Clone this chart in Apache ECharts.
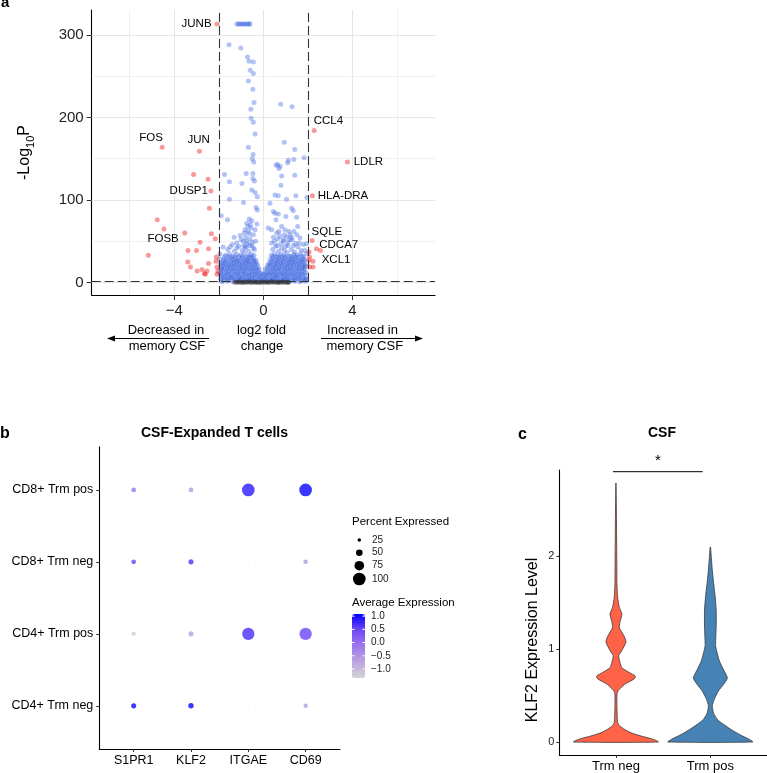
<!DOCTYPE html>
<html><head><meta charset="utf-8">
<script src="https://cdn.jsdelivr.net/npm/echarts@6/dist/echarts.min.js"></script>
<style>html,body{margin:0;padding:0;background:#fff}#chart{width:767px;height:773px}</style>
</head><body><div id="chart"></div>
<script>
// ================= DATA =================
// ---- Panel a : volcano ----
const volcanoXTicks = [-4, 0, 4];
const volcanoXMinor = [-6, -2, 2, 6];
const volcanoYTicks = [0, 100, 200, 300];
const volcanoYMinor = [50, 150, 250];
const fcCutoffs = [-2, 2];
const pCutoffs = [1.3];
// significant in both (red): [log2FC, -log10P, gene]
const volcanoRed = [
  [-2.08,313,'JUNB'],[-4.54,164,'FOS'],[-2.87,159,'JUN'],[-3.13,131,''],[-2.48,125,''],
  [-2.35,111,'DUSP1'],[-2.42,90,''],[-4.76,76,''],[-4.46,65,'FOSB'],[-3.53,60,''],
  [-2.33,59,''],[-2.16,53,''],[-2.84,49,''],[-5.16,33,''],[-3.38,39,''],[-3.0,39,''],
  [-2.46,41,''],[-3.39,25,''],[-3.27,19,''],[-2.97,14,''],[-2.75,16,''],[-2.65,11,''],
  [-2.53,14,''],[-2.46,23,''],[-2.11,31,''],[-2.12,26,''],[-2.08,19,''],[-2.04,14,''],
  [-2.08,10,''],[-2.6,10,''],
  [2.28,184,'CCL4'],[3.77,146,'LDLR'],[2.2,105,'HLA-DRA'],[2.19,51,'SQLE'],[2.38,41,'CDCA7'],
  [2.56,39,''],[2.05,37,''],[2.07,31,''],[2.23,26,'XCL1'],[2.08,19,''],[2.23,19,''],[2.05,27,'']
];
// significant by P only (blue): [log2FC, -log10P]
const volcanoBlue = [
  [-1.19,313],[-1.12,313],[-1.05,313],[-0.98,313],[-0.91,313],[-0.84,313],[-0.77,313],[-0.7,313],[-0.64,313],[-0.6,313],
  [-1.54,288],[-1.01,284],[-0.71,273],[-0.64,268],[-0.45,267],[-0.59,257],[-0.45,253],[-0.67,244],[-0.47,234],
  [-0.42,218],[-0.56,210],[0.78,216],[1.29,213],[-0.55,199],[-0.45,194],[-0.37,180],[0.94,170],[-0.67,164],
  [1.41,161],[-0.46,155],[-0.5,150],[-0.43,146],[1.83,151],[1.12,148],[1.37,149],[0.64,143],[0.75,141],[0.7,138],
  [1.09,145],[0.57,142],[-1.74,131],[-1.52,122],[-0.77,132],[-0.96,120],[-0.47,132],[-0.47,126],[-0.4,123],
  [0.82,129],[0.79,118],[1.41,130],[-0.52,112],[-0.37,109],[-0.27,104],[-1.52,101],[-0.89,97],[0.52,106],
  [0.67,105],[1.04,101],[1.46,105],[1.95,103],[0.3,96],[-0.33,91],[-0.27,88],[0.45,86],[0.52,84],[0.67,83],
  [1.27,90],[1.34,87],[1.01,80],[-1.89,81],[-1.61,76],[-0.63,77],[-0.52,75],[0.57,76],[1.49,79],[0.82,68],
  [-0.74,72],[-0.29,71],[0.22,66],[0.37,64],[0.97,64],[1.54,68],[1.37,62],[-0.82,64],[-0.63,59],[-1.31,55],
  [-1.04,57],[-0.37,64],[0.75,56],[1.04,55],[1.64,54],[1.19,52],[0.89,52],[1.79,46],[1.94,47],[0.37,48],
  [-1.49,43],[-1.81,43],[-1.19,42],[-0.82,43],[-0.45,42],[-1.95,35],[-1.96,29],[-1.93,23],[-1.9,17],[-1.93,11],
  [1.86,39],[1.94,35],[1.86,28],[1.86,19],
  [-1.0,52],[-0.8,55],[-0.68,62],[-0.55,66],[-0.45,58],[-0.75,50],[-0.62,45],[-0.88,45],[-1.4,46],[-0.35,50],
  [-0.58,70],[-0.7,68],[0.45,55],[0.7,62],[0.9,50],[1.15,62],[1.35,45],[1.6,48],[0.62,45],[1.0,44],[1.25,55],[1.5,58],
  [-1.2,48],[-0.9,50],[-0.72,47],[-0.6,53],[-0.5,49],[0.5,50],[0.65,53],[0.8,47],[0.95,58],[1.1,49],[1.3,52],
  [1.45,47],[-0.85,60],[0.6,60],[1.2,58],
  [-1.6,40],[-1.3,38],[-1.1,44],[-0.95,39],[-0.78,42],[-0.65,38],[-0.52,45],[-0.4,40],[0.42,40],[0.55,44],
  [0.68,38],[0.82,42],[0.95,39],[1.1,45],[1.25,40],[1.4,37],[1.55,43],[1.7,39],
  [-1.7,33],[-1.52,35],[-1.35,32],[-1.18,34],[-1.01,33],[-0.85,36],[-0.7,32],[-0.55,34],[-0.42,33],[0.36,33],
  [0.5,35],[0.64,32],[0.78,34],[0.93,33],[1.07,36],[1.21,32],[1.36,34],[1.5,33],[1.66,35],[1.8,32],
  [-1.75,31],[-1.6,31.5],[-1.44,31],[-1.27,31.5],[-1.1,31],[-0.93,31.5],[-0.77,31],[-0.62,31.5],[-0.48,31],
  [0.42,31],[0.57,31.5],[0.71,31],[0.85,31.5],[1.0,31],[1.14,31.5],[1.29,31],[1.43,31.5],[1.58,31],[1.73,31.5],
  [-1.8,28],[-1.65,27],[-1.5,30],[-1.37,28],[-1.23,29],[-1.1,27],[-0.96,30],[-0.83,28],[-0.7,27],[-0.57,30],
  [-0.44,28],[-0.33,27],[0.3,28],[0.44,30],[0.57,27],[0.7,29],[0.84,28],[0.97,30],[1.1,27],[1.24,29],[1.37,28],
  [1.5,30],[1.64,27],[1.77,29],
  [-1.78,26],[-1.58,26.5],[-1.43,26],[-1.3,26.5],[-1.16,26],[-1.03,26.5],[-0.89,26],[-0.76,26.5],[-0.63,26],
  [-0.5,26.5],[-0.38,26],[0.36,26],[0.5,26.5],[0.63,26],[0.77,26.5],[0.9,26],[1.04,26.5],[1.17,26],[1.3,26.5],
  [1.44,26],[1.57,26.5],[1.7,26],[1.84,26.5],
  [-1.85,23],[-1.72,25],[-1.59,22],[-1.46,24],[-1.33,23],[-1.2,25],[-1.07,22],[-0.94,24],[-0.81,23],[-0.68,25],
  [-0.55,22],[-0.42,24],[-0.29,23],[0.25,23],[0.38,25],[0.51,22],[0.64,24],[0.77,23],[0.9,25],[1.03,22],
  [1.16,24],[1.29,23],[1.42,25],[1.55,22],[1.68,24],[1.81,23],
  [-1.82,21],[-1.69,21.5],[-1.56,21],[-1.43,21.5],[-1.3,21],[-1.17,21.5],[-1.04,21],[-0.91,21.5],[-0.78,21],
  [-0.65,21.5],[-0.52,21],[-0.39,21.5],[-0.26,21],[0.2,21],[0.32,21.5],[0.45,21],[0.58,21.5],[0.71,21],
  [0.84,21.5],[0.97,21],[1.1,21.5],[1.23,21],[1.36,21.5],[1.49,21],[1.62,21.5],[1.75,21],[1.88,21.5],
  [-1.89,18],[-1.76,20],[-1.63,17],[-1.5,19],[-1.37,18],[-1.24,20],[-1.11,17],[-0.98,19],[-0.85,18],[-0.72,20],
  [-0.59,17],[-0.46,19],[-0.33,18],[-0.2,17],[0.18,18],[0.31,20],[0.44,17],[0.57,19],[0.7,18],[0.83,20],
  [0.96,17],[1.09,19],[1.22,18],[1.35,20],[1.48,17],[1.61,19],[1.74,18],[1.87,20],
  [-1.86,16],[-1.73,16.5],[-1.6,16],[-1.46,16.5],[-1.33,16],[-1.2,16.5],[-1.07,16],[-0.94,16.5],[-0.81,16],
  [-0.68,16.5],[-0.55,16],[-0.42,16.5],[-0.29,16],[0.08,16.5],[0.3,16],[0.43,16.5],[0.55,16],[0.68,16.5],
  [0.81,16],[0.94,16.5],[1.07,16],[1.2,16.5],[1.33,16],[1.46,16.5],[1.59,16],[1.72,16.5],[1.85,16],
  [-1.93,13],[-1.8,15],[-1.67,12],[-1.53,14],[-1.4,13],[-1.27,15],[-1.14,12],[-1.01,14],[-0.88,13],[-0.75,15],
  [-0.62,12],[-0.49,14],[-0.36,13],[-0.23,15],[-0.12,12],[0.12,13],[0.24,15],[0.36,12],[0.49,14],[0.62,13],
  [0.75,15],[0.88,12],[1.01,14],[1.14,13],[1.27,15],[1.4,12],[1.53,14],[1.66,13],[1.79,15],[1.92,12],
  [-1.84,10.5],[-1.71,11],[-1.57,10.5],[-1.44,11],[-1.31,10.5],[-1.18,11],[-1.05,10.5],[-0.92,11],[-0.79,10.5],
  [-0.66,11],[-0.53,10.5],[-0.4,11],[-0.27,10.5],[-0.15,11],[-0.03,10.5],[0.09,11],[0.21,10.5],[0.33,11],
  [0.46,10.5],[0.58,11],[0.71,10.5],[0.83,11],[0.96,10.5],[1.08,11],[1.21,10.5],[1.33,11],[1.46,10.5],
  [1.58,11],[1.71,10.5],[1.84,11],
  [-1.9,9],[-1.76,7],[-1.62,10],[-1.49,8],[-1.36,7],[-1.24,10],[-1.11,8],[-0.99,7],[-0.87,10],[-0.74,8],
  [-0.62,9],[-0.49,7],[-0.36,10],[-0.24,8],[-0.11,7],[0.02,9],[0.14,8],[0.27,10],[0.39,7],[0.52,9],[0.64,8],
  [0.77,10],[0.89,7],[1.02,9],[1.14,8],[1.27,10],[1.39,7],[1.52,9],[1.64,8],[1.77,10],[1.9,7],
  [-1.86,5.5],[-1.74,6],[-1.61,5],[-1.49,6],[-1.36,5],[-1.24,5.5],[-1.11,6],[-0.99,5],[-0.86,5.5],[-0.74,6],
  [-0.61,5],[-0.49,5.5],[-0.36,5],[-0.24,6],[-0.11,5.5],[0.02,5],[0.14,6],[0.27,5.5],[0.39,5],[0.52,6],
  [0.64,5.5],[0.77,5],[0.89,6],[1.02,5.5],[1.14,5],[1.27,6],[1.39,5.5],[1.52,5],[1.64,6],[1.77,5.5],[1.88,5],
  [-1.92,4],[-1.8,2],[-1.68,5],[-1.55,3],[-1.43,6],[-1.3,2],[-1.18,4],[-1.05,3],[-0.93,5],[-0.8,2],[-0.68,4],
  [-0.55,3],[-0.42,6],[-0.3,2],[-0.18,4],[-0.05,3],[0.08,5],[0.2,2],[0.33,4],[0.45,3],[0.58,6],[0.7,2],
  [0.83,4],[0.95,3],[1.08,5],[1.2,2],[1.33,4],[1.45,3],[1.58,5],[1.7,2],[1.83,4],[1.93,3],
  [-1.86,1],[-1.6,1.5],[-1.36,1],[-1.12,1.5],[-0.87,1],[-0.62,1.5],[-0.37,1],[-0.12,1.5],[0.14,1],[0.39,1.5],
  [0.64,1],[0.89,1.5],[1.14,1],[1.39,1.5],[1.64,1],[1.88,1.5]
];
// not significant (black)
const volcanoNS = [
  [-1.26,0.5],[-1.15,0.3],[-1.05,0.8],[-0.95,0.2],[-0.85,0.6],[-0.75,0.4],[-0.65,0.9],[-0.55,0.1],
  [-0.45,0.7],[-0.35,0.3],[-0.25,0.5],[-0.15,0.2],[-0.05,0.8],[0.05,0.4],[0.15,0.6],[0.25,0.1],
  [0.35,0.9],[0.45,0.3],[0.55,0.7],[0.65,0.2],[0.75,0.5],[0.85,0.8],[0.95,0.4],[1.05,0.6],[1.12,0.2]
];

// ---- Panel b : dot plot ----
const dotGenes = ['S1PR1', 'KLF2', 'ITGAE', 'CD69'];
const dotGroups = ['CD4+ Trm neg', 'CD4+ Trm pos', 'CD8+ Trm neg', 'CD8+ Trm pos']; // bottom -> top
const pctCD4neg = [38, 40, 4, 32];
const pctCD4pos = [30, 38, 97, 97];
const pctCD8neg = [35, 38, 4, 33];
const pctCD8pos = [35, 35, 100, 100];
const avgCD4neg = [1.0, 1.05, -0.9, -0.6];
const avgCD4pos = [-1.25, -0.65, 0.7, 0.5];
const avgCD8neg = [0.5, 0.65, -0.9, -0.55];
const avgCD8pos = [-0.1, -0.6, 0.85, 1.05];
const sizeBreaks = [25, 50, 75, 100];
const colorBreaks = [1.0, 0.5, 0.0, -0.5, -1.0];
const avgRange = [-1.34, 1.08];

// ---- Panel c : violin ----
const vlnGroups = ['Trm neg', 'Trm pos'];
const vlnTicks = [0, 1, 2];
const vlnNegY = [0,0.03,0.065,0.1,0.137,0.17,0.21,0.37,0.51,0.55,0.62,0.68,0.71,0.75,0.8,0.86,0.93,0.97,1.08,1.16,1.23,1.29,1.38,1.45,1.56,1.7,1.99,2.17,2.42,2.79];
const vlnNegDensity = [1,0.87,0.59,0.35,0.2,0.095,0.04,0.024,0.024,0.047,0.2,0.43,0.455,0.31,0.14,0.094,0.063,0.12,0.236,0.17,0.08,0.094,0.14,0.08,0.04,0.024,0.02,0.016,0.012,0.002];
const vlnPosY = [0,0.03,0.08,0.137,0.19,0.24,0.31,0.39,0.46,0.55,0.62,0.69,0.77,0.87,0.97,1.04,1.15,1.26,1.41,1.56,1.71,1.85,1.99,2.1];
const vlnPosDensity = [1,0.91,0.69,0.48,0.31,0.17,0.077,0.046,0.092,0.19,0.31,0.4,0.32,0.215,0.154,0.123,0.13,0.138,0.138,0.115,0.077,0.046,0.023,0.004];

// ================= BUILD =================
const FONT = '"Liberation Sans", Arial, Helvetica, sans-serif';
const chart = echarts.init(document.getElementById('chart'));
const minus = v => (v < 0 ? '\u2212' + Math.abs(v) : String(v));
const fmt1 = v => (v < 0 ? '\u2212' : '') + Math.abs(v).toFixed(1);

const labelOffsets = {
  JUNB: [-20.4, 0], FOS: [-11, -9], JUN: [-0.7, -11], DUSP1: [-22.2, 0], FOSB: [-0.8, 10],
  CCL4: [14.2, -10], LDLR: [21, 0], 'HLA-DRA': [30.6, 0], SQLE: [14.7, -8.4], CDCA7: [22.3, -4.4], XCL1: [23, -1.7]
};
const redData = volcanoRed.map(d => {
  const item = { value: [d[0], d[1]] };
  if (d[2]) {
    item.label = { show: true, position: 'inside', offset: labelOffsets[d[2]], formatter: d[2],
      fontSize: 11.5, color: '#000', fontFamily: FONT, textBorderWidth: 0, textBorderColor: 'transparent',
      textShadowBlur: 0, opacity: 1 };
  }
  return item;
});

const gridMajorW = 1.1, gridMinorW = 0.6, gridColor = '#e6e6e6';
const gridLines = [].concat(
  volcanoXTicks.map(v => ({ xAxis: v, lineStyle: { width: gridMajorW } })),
  volcanoXMinor.map(v => ({ xAxis: v, lineStyle: { width: gridMinorW } })),
  volcanoYTicks.map(v => ({ yAxis: v, lineStyle: { width: gridMajorW } })),
  volcanoYMinor.map(v => ({ yAxis: v, lineStyle: { width: gridMinorW } }))
);
const cutLines = [].concat(fcCutoffs.map(v => ({ xAxis: v })), pCutoffs.map(v => ({ yAxis: v })));

// dot plot data
const pctRows = [pctCD4neg, pctCD4pos, pctCD8neg, pctCD8pos];
const avgRows = [avgCD4neg, avgCD4pos, avgCD8neg, avgCD8pos];
const dotData = [];
pctRows.forEach((row, r) => row.forEach((p, c) => dotData.push([c + 1, r + 1, p, avgRows[r][c]])));
const sizeOf = p => 0.5 + 0.122 * p;
const colorStops = ['#d3d3d3', '#bca6e1', '#9d78ec', '#7248f6', '#0000ff'];

const vlnY = [vlnNegY, vlnPosY], vlnD = [vlnNegDensity, vlnPosDensity];
const vlnColors = ['#ff6347', '#4682b4'];
const HALF = 0.45;

const axisLineBlack = { show: true, onZero: false, lineStyle: { color: '#000', width: 1.1 } };
const tickStyle = (len, vals) => ({ show: true, length: len, customValues: vals, lineStyle: { color: '#333', width: 1 } });

// legend geometry for panel b
const cbTop = 614, cbH = 64, cbLeft = 352, cbW = 13;
const sizeKeyY = [540, 552.7, 565.7, 579];
const graphics = [];
const txt = (text, x, y, opt) => graphics.push({ type: 'text', x, y, silent: true,
  style: Object.assign({ text, fill: '#000', font: (opt && opt.font) || ('13px ' + FONT),
    textAlign: (opt && opt.align) || 'center', textVerticalAlign: 'middle' }, opt && opt.style) });

// panel letters and titles
txt('a', 1, 3, { font: 'bold 15px ' + FONT, align: 'left' });
txt('b', 0, 434, { font: 'bold 16px ' + FONT, align: 'left' });
txt('c', 518, 435, { font: 'bold 16px ' + FONT, align: 'left' });
txt('CSF-Expanded T cells', 214.5, 433, { font: 'bold 14px ' + FONT });
txt('CSF', 662, 433, { font: 'bold 14px ' + FONT });

// panel a x-axis annotation
txt('Decreased in', 166, 330, { font: '13px ' + FONT });
txt('memory CSF', 167, 346.5, { font: '13px ' + FONT });
txt('log2 fold', 261.5, 330, { font: '13px ' + FONT });
txt('change', 262, 346.5, { font: '13px ' + FONT });
txt('Increased in', 362.5, 330, { font: '13px ' + FONT });
txt('memory CSF', 364.8, 346.5, { font: '13px ' + FONT });
graphics.push({ type: 'line', silent: true, shape: { x1: 113, y1: 338.5, x2: 209, y2: 338.5 }, style: { stroke: '#000', lineWidth: 1 } });
graphics.push({ type: 'polygon', silent: true, shape: { points: [[107, 338.5], [115, 335.5], [115, 341.5]] }, style: { fill: '#000' } });
graphics.push({ type: 'line', silent: true, shape: { x1: 321, y1: 338.5, x2: 417, y2: 338.5 }, style: { stroke: '#000', lineWidth: 1 } });
graphics.push({ type: 'polygon', silent: true, shape: { points: [[423, 338.5], [415, 335.5], [415, 341.5]] }, style: { fill: '#000' } });

// panel b legends
txt('Percent Expressed', cbLeft, 522, { font: '11.5px ' + FONT, align: 'left' });
sizeBreaks.forEach((p, i) => {
  graphics.push({ type: 'circle', silent: true, shape: { cx: 359.3, cy: sizeKeyY[i], r: sizeOf(p) / 2 }, style: { fill: '#000' } });
  txt(String(p), 372, sizeKeyY[i], { font: '10px ' + FONT, align: 'left', style: { fill: '#222' } });
});
txt('Average Expression', cbLeft, 603, { font: '11.5px ' + FONT, align: 'left' });
colorBreaks.forEach(v => {
  const y = cbTop + (avgRange[1] - v) / (avgRange[1] - avgRange[0]) * cbH;
  txt(fmt1(v), 371, y, { font: '10px ' + FONT, align: 'left', style: { fill: '#222' } });
  graphics.push({ type: 'line', silent: true, z: 100, shape: { x1: cbLeft, y1: y, x2: cbLeft + 2.6, y2: y }, style: { stroke: '#fff', lineWidth: 1 } });
  graphics.push({ type: 'line', silent: true, z: 100, shape: { x1: cbLeft + cbW - 2.6, y1: y, x2: cbLeft + cbW, y2: y }, style: { stroke: '#fff', lineWidth: 1 } });
});

// panel c annotations
graphics.push({ type: 'line', silent: true, shape: { x1: 613, y1: 471.7, x2: 702.7, y2: 471.7 }, style: { stroke: '#000', lineWidth: 1 } });
txt('*', 658, 461, { font: '15px ' + FONT });
graphics.push({ type: 'text', silent: true, x: 533, y: 640, rotation: Math.PI / 2,
  style: { text: 'KLF2 Expression Level', fill: '#000', font: '16px ' + FONT, textAlign: 'center', textVerticalAlign: 'middle' } });

const option = {
  animation: false,
  backgroundColor: '#fff',
  textStyle: { fontFamily: FONT },
  grid: [
    { left: 91.7, top: 10, width: 343.3, height: 285 },
    { left: 99.3, top: 446.7, width: 240.7, height: 302.3 },
    { left: 559.3, top: 470, width: 207.7, height: 285 }
  ],
  xAxis: [
    { gridIndex: 0, type: 'value', min: -7.7, max: 7.7, axisLine: axisLineBlack,
      axisTick: tickStyle(5, volcanoXTicks),
      axisLabel: { customValues: volcanoXTicks, formatter: minus, fontSize: 15, color: '#222', margin: 8, fontFamily: FONT },
      splitLine: { show: false } },
    { gridIndex: 1, type: 'value', min: 0.4, max: 4.6, axisLine: axisLineBlack,
      axisTick: tickStyle(3, [1, 2, 3, 4]),
      axisLabel: { customValues: [1, 2, 3, 4], formatter: v => dotGenes[Math.round(v) - 1], fontSize: 12.5, color: '#000', margin: 5, fontFamily: FONT },
      splitLine: { show: false } },
    { gridIndex: 2, type: 'value', min: 0.4, max: 2.6, axisLine: axisLineBlack,
      axisTick: tickStyle(3, [1, 2]),
      axisLabel: { customValues: [1, 2], formatter: v => vlnGroups[Math.round(v) - 1], fontSize: 13, color: '#000', margin: 5, fontFamily: FONT },
      splitLine: { show: false } }
  ],
  yAxis: [
    { gridIndex: 0, type: 'value', min: -15, max: 330, axisLine: axisLineBlack,
      axisTick: tickStyle(5, volcanoYTicks),
      axisLabel: { customValues: volcanoYTicks, formatter: v => String(v), fontSize: 15, color: '#222', margin: 8, fontFamily: FONT },
      splitLine: { show: false },
      name: '{a|-Log}{s|10}{a|P}', nameLocation: 'middle', nameGap: 55, nameRotate: 90,
      nameTextStyle: { rich: { a: { fontSize: 16, lineHeight: 24, color: '#000', fontFamily: FONT },
                               s: { fontSize: 11, lineHeight: 24, verticalAlign: 'bottom', color: '#000', fontFamily: FONT } } } },
    { gridIndex: 1, type: 'value', min: 0.4, max: 4.6, axisLine: axisLineBlack,
      axisTick: tickStyle(3, [1, 2, 3, 4]),
      axisLabel: { customValues: [1, 2, 3, 4], formatter: v => dotGroups[Math.round(v) - 1], fontSize: 12.5, color: '#000', margin: 6, fontFamily: FONT },
      splitLine: { show: false } },
    { gridIndex: 2, type: 'value', min: -0.14, max: 2.93, axisLine: axisLineBlack,
      axisTick: tickStyle(3, vlnTicks),
      axisLabel: { customValues: vlnTicks, formatter: v => String(v), fontSize: 11, color: '#222', margin: 5, fontFamily: FONT },
      splitLine: { show: false } }
  ],
  visualMap: [{
    type: 'continuous', seriesIndex: 3, dimension: 3, min: avgRange[0], max: avgRange[1],
    inRange: { color: colorStops }, left: cbLeft, top: cbTop, itemWidth: cbW, itemHeight: cbH,
    calculable: false, padding: 0, hoverLink: false, realtime: false
  }],
  series: [
    { type: 'scatter', name: 'P', xAxisIndex: 0, yAxisIndex: 0, data: volcanoBlue, symbolSize: 5, silent: true,
      itemStyle: { color: 'rgba(65,105,225,0.5)' }, z: 2,
      markLine: { silent: true, symbol: 'none', z: 1, label: { show: false }, animation: false,
        lineStyle: { color: gridColor, type: 'solid' }, data: gridLines } },
    { type: 'scatter', name: 'NS', xAxisIndex: 0, yAxisIndex: 0, data: volcanoNS, symbolSize: 5, silent: true,
      itemStyle: { color: 'rgba(30,30,30,0.6)' }, z: 3 },
    { type: 'scatter', name: 'P & Log2FC', xAxisIndex: 0, yAxisIndex: 0, data: redData, symbolSize: 5, silent: true,
      itemStyle: { color: 'rgba(238,0,0,0.5)' }, z: 4,
      markLine: { silent: true, symbol: 'none', z: 6, label: { show: false }, animation: false,
        lineStyle: { color: '#333', width: 1.1, type: [9, 4] }, data: cutLines } },
    { type: 'scatter', name: 'dot', xAxisIndex: 1, yAxisIndex: 1, data: dotData, silent: true,
      symbolSize: v => sizeOf(v[2]) },
    { type: 'custom', name: 'violin', xAxisIndex: 2, yAxisIndex: 2, silent: true,
      data: vlnGroups.map((g, i) => [i + 1, 0]), encode: { x: 0, y: 1 },
      renderItem: (params, api) => {
        const i = params.dataIndex;
        const cx = api.value(0);
        const ys = vlnY[i], ds = vlnD[i];
        const right = ys.map((y, k) => api.coord([cx + ds[k] * HALF, y]));
        const left = ys.map((y, k) => api.coord([cx - ds[k] * HALF, y])).reverse();
        return { type: 'polygon', shape: { points: right.concat(left), smooth: 0.2 },
          style: { fill: vlnColors[i], stroke: '#3a3a3a', lineWidth: 0.8 } };
      } }
  ],
  graphic: graphics
};
chart.setOption(option);
</script></body></html>
